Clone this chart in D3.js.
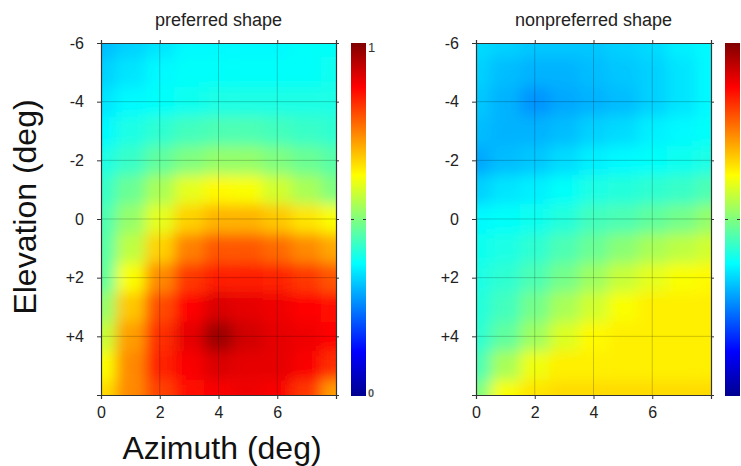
<!DOCTYPE html>
<html>
<head>
<meta charset="utf-8">
<script src="https://cdn.jsdelivr.net/npm/d3@7"></script>
<style>
  body { margin: 0; background: #fff; }
  svg { display: block; }
</style>
</head>
<body>
<div id="chart"></div>
<script>
var width = 741,
	height = 466;

// grid nodes (deg)
var azimuth = [0, 1, 2, 3, 4, 5, 6, 7, 8];
var elevation = [-6, -5, -4, -3, -2, -1, 0, 1, 2, 3, 4, 5, 6];

// normalised response, one row per elevation, one column per azimuth
var preferred = [
	[0.31, 0.33, 0.35, 0.37, 0.37, 0.37, 0.37, 0.38, 0.38],
	[0.33, 0.35, 0.37, 0.38, 0.38, 0.38, 0.38, 0.38, 0.39],
	[0.35, 0.37, 0.38, 0.39, 0.40, 0.40, 0.40, 0.40, 0.40],
	[0.37, 0.40, 0.42, 0.44, 0.45, 0.45, 0.44, 0.43, 0.42],
	[0.40, 0.43, 0.47, 0.50, 0.52, 0.52, 0.50, 0.48, 0.46],
	[0.43, 0.48, 0.54, 0.60, 0.63, 0.62, 0.58, 0.54, 0.50],
	[0.45, 0.52, 0.60, 0.67, 0.70, 0.70, 0.68, 0.65, 0.62],
	[0.46, 0.56, 0.67, 0.75, 0.79, 0.79, 0.77, 0.74, 0.71],
	[0.47, 0.62, 0.74, 0.82, 0.85, 0.85, 0.84, 0.82, 0.79],
	[0.52, 0.68, 0.80, 0.87, 0.91, 0.90, 0.89, 0.87, 0.86],
	[0.57, 0.72, 0.83, 0.90, 0.97, 0.92, 0.90, 0.89, 0.87],
	[0.62, 0.74, 0.84, 0.88, 0.91, 0.90, 0.90, 0.88, 0.83],
	[0.66, 0.74, 0.81, 0.86, 0.88, 0.89, 0.88, 0.82, 0.72]
];

var nonpreferred = [
	[0.34, 0.33, 0.32, 0.32, 0.32, 0.33, 0.34, 0.36, 0.37],
	[0.33, 0.31, 0.30, 0.30, 0.31, 0.32, 0.33, 0.35, 0.37],
	[0.32, 0.30, 0.27, 0.29, 0.30, 0.31, 0.33, 0.35, 0.37],
	[0.31, 0.30, 0.30, 0.31, 0.33, 0.34, 0.36, 0.37, 0.38],
	[0.29, 0.31, 0.32, 0.34, 0.36, 0.37, 0.38, 0.39, 0.40],
	[0.33, 0.35, 0.36, 0.38, 0.40, 0.41, 0.42, 0.43, 0.45],
	[0.37, 0.38, 0.39, 0.41, 0.44, 0.45, 0.47, 0.49, 0.52],
	[0.39, 0.40, 0.42, 0.45, 0.48, 0.51, 0.54, 0.56, 0.58],
	[0.40, 0.42, 0.45, 0.49, 0.53, 0.57, 0.60, 0.62, 0.63],
	[0.41, 0.44, 0.49, 0.54, 0.58, 0.62, 0.64, 0.64, 0.64],
	[0.42, 0.47, 0.53, 0.59, 0.63, 0.64, 0.64, 0.64, 0.64],
	[0.45, 0.54, 0.61, 0.64, 0.64, 0.64, 0.64, 0.64, 0.64],
	[0.50, 0.62, 0.65, 0.66, 0.66, 0.66, 0.66, 0.66, 0.66]
];

var xTicks = [0, 2, 4, 6, 8],
	xTickLabels = ['0', '2', '4', '6', ''];
var yTicks = [-6, -4, -2, 0, 2, 4, 6],
	yTickLabels = ['-6', '-4', '-2', '0', '+2', '+4', ''];

var titles = ['preferred shape', 'nonpreferred shape'];

// matlab style jet
var jetStops = [0, 0.125, 0.375, 0.625, 0.875, 1],
	jetColors = ['#000090', '#0000ff', '#00ffff', '#ffff00', '#ff0000', '#800000'];
var jet = d3.scaleLinear()
			.domain(jetStops)
			.range(jetColors)
			.interpolate(d3.interpolateRgb)
			.clamp(true);

var FONT = 'Liberation Sans, Arial, Helvetica, sans-serif';

var svg = d3.select('#chart').append('svg')
	.attr('width', width)
	.attr('height', height);

var defs = svg.append('defs');

var plotTop = 43, plotBottom = 395;
var panels = [
	{ x0: 101, x1: 336, cb: 351, data: preferred, title: titles[0], cbLabels: true },
	{ x0: 476, x1: 711, cb: 725, data: nonpreferred, title: titles[1], cbLabels: false }
];

var grad = defs.append('linearGradient')
	.attr('id', 'jetgrad')
	.attr('x1', 0).attr('y1', 1)
	.attr('x2', 0).attr('y2', 0);
grad.selectAll('stop')
	.data(jetStops)
	.enter()
	.append('stop')
	.attr('offset', d => d)
	.attr('stop-color', d => jet(d));

panels.forEach(function(p, k) {
	var x = d3.scaleLinear().domain([0, 8]).range([p.x0, p.x1]),
		y = d3.scaleLinear().domain([-6, 6]).range([plotTop, plotBottom]);
	var PAD = 30;

	defs.append('clipPath')
		.attr('id', 'clip' + k)
		.append('rect')
		.attr('x', p.x0).attr('y', plotTop)
		.attr('width', p.x1 - p.x0).attr('height', plotBottom - plotTop);

	defs.append('filter')
		.attr('id', 'blur' + k)
		.attr('filterUnits', 'userSpaceOnUse')
		.attr('x', p.x0 - 40).attr('y', plotTop - 40)
		.attr('width', p.x1 - p.x0 + 80).attr('height', plotBottom - plotTop + 80)
		.append('feGaussianBlur')
		.attr('stdDeviation', 7);

	var cells = [];
	elevation.forEach(function(el, r) {
		azimuth.forEach(function(az, c) {
			cells.push({ az: az, el: el, r: r, c: c, v: p.data[r][c] });
		});
	});

	var g = svg.append('g').attr('clip-path', 'url(#clip' + k + ')')
		.append('g').attr('filter', 'url(#blur' + k + ')');

	g.selectAll('rect.cell')
		.data(cells)
		.enter()
		.append('rect')
		.classed('cell', true)
		.attr('x', d => d.c === 0 ? x(d.az) - PAD : x(d.az - 0.5))
		.attr('y', d => d.r === 0 ? y(d.el) - PAD : y(d.el - 0.5))
		.attr('width', function(d) {
			var a = d.c === 0 ? x(d.az) - PAD : x(d.az - 0.5),
				b = d.c === azimuth.length - 1 ? x(d.az) + PAD : x(d.az + 0.5);
			return b - a + 0.5;
		})
		.attr('height', function(d) {
			var a = d.r === 0 ? y(d.el) - PAD : y(d.el - 0.5),
				b = d.r === elevation.length - 1 ? y(d.el) + PAD : y(d.el + 0.5);
			return b - a + 0.5;
		})
		.attr('fill', d => jet(d.v));

	// grid
	svg.append('g')
		.selectAll('line')
		.data(xTicks.slice(1, -1))
		.enter()
		.append('line')
		.attr('x1', d => x(d)).attr('x2', d => x(d))
		.attr('y1', plotTop).attr('y2', plotBottom)
		.attr('stroke', 'rgba(0,0,0,0.25)')
		.attr('stroke-width', 0.8);
	svg.append('g')
		.selectAll('line')
		.data(yTicks.slice(1, -1))
		.enter()
		.append('line')
		.attr('x1', p.x0).attr('x2', p.x1)
		.attr('y1', d => y(d)).attr('y2', d => y(d))
		.attr('stroke', 'rgba(0,0,0,0.25)')
		.attr('stroke-width', 0.8);

	// axes, ticks pointing outwards on all four sides
	var axB = d3.axisBottom(x).tickValues(xTicks).tickSize(4).tickPadding(8)
		.tickFormat((d, i) => xTickLabels[i]);
	var axT = d3.axisTop(x).tickValues(xTicks).tickSize(3).tickFormat('');
	var axL = d3.axisLeft(y).tickValues(yTicks).tickSize(4).tickPadding(13)
		.tickFormat((d, i) => yTickLabels[i]);
	var axR = d3.axisRight(y).tickValues(yTicks).tickSize(3).tickFormat('');

	[[axB, 0, plotBottom], [axT, 0, plotTop], [axL, p.x0, 0], [axR, p.x1, 0]].forEach(function(a) {
		var ag = svg.append('g')
			.attr('transform', 'translate(' + a[1] + ',' + a[2] + ')')
			.call(a[0]);
		ag.select('.domain').attr('stroke', '#333').attr('stroke-width', 1.2);
		ag.selectAll('.tick line').attr('stroke', '#333');
		ag.selectAll('.tick text')
			.attr('fill', '#222')
			.style('font-family', FONT)
			.style('font-size', '16px');
	});

	svg.append('text')
		.attr('x', (p.x0 + p.x1) / 2)
		.attr('y', 26)
		.attr('text-anchor', 'middle')
		.style('font-family', 'Liberation Sans Narrow, ' + FONT)
		.style('font-size', '18px')
		.attr('fill', '#222')
		.text(p.title);

	// colorbar
	var cbW = 15;
	svg.append('rect')
		.attr('x', p.cb).attr('y', plotTop)
		.attr('width', cbW).attr('height', plotBottom + 1 - plotTop)
		.attr('fill', 'url(#jetgrad)');
	var cy = d3.scaleLinear().domain([0, 1]).range([plotBottom + 1, plotTop]);
	svg.append('line')
		.attr('x1', p.cb).attr('x2', p.cb + 3)
		.attr('y1', cy(0.5)).attr('y2', cy(0.5))
		.attr('stroke', '#333');
	svg.append('line')
		.attr('x1', p.cb + cbW - 3).attr('x2', p.cb + cbW)
		.attr('y1', cy(0.5)).attr('y2', cy(0.5))
		.attr('stroke', '#333');
	if (p.cbLabels) {
		svg.append('text')
			.attr('x', p.cb + cbW + 2).attr('y', cy(1) + 9)
			.style('font-family', FONT).style('font-size', '13px')
			.attr('fill', '#333')
			.text('1');
		svg.append('text')
			.attr('x', p.cb + cbW + 2).attr('y', cy(0) + 1)
			.style('font-family', FONT).style('font-size', '11px')
			.style('font-weight', 'bold')
			.attr('fill', '#555')
			.text('0');
	}
});

// axis titles
svg.append('text')
	.attr('transform', 'translate(36,207) rotate(-90)')
	.attr('text-anchor', 'middle')
	.style('font-family', FONT)
	.style('font-size', '32px')
	.attr('fill', '#111')
	.text('Elevation (deg)');

svg.append('text')
	.attr('x', 222)
	.attr('y', 459)
	.attr('text-anchor', 'middle')
	.style('font-family', FONT)
	.style('font-size', '32px')
	.attr('fill', '#111')
	.text('Azimuth (deg)');
</script>
</body>
</html>
